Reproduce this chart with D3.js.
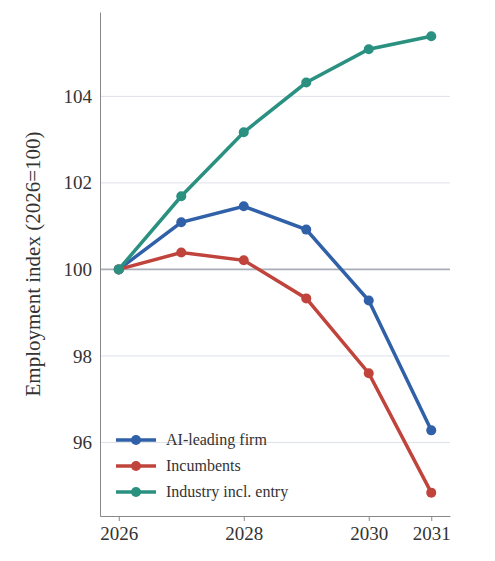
<!DOCTYPE html><html><head><meta charset="utf-8">
<script src="https://cdn.jsdelivr.net/npm/d3@7"></script>
<style>body{margin:0;background:#fff}svg{font-family:"Liberation Serif","Times New Roman",serif}</style></head><body>
<svg id="c" width="495" height="561"></svg>
<script>
const years=[2026,2027,2028,2029,2030,2031];
const xTicks=[2026,2028,2030,2031];
const yTicks=[96,98,100,102,104];
const aiLeading=[100,101.09,101.46,100.92,99.28,96.28];
const incumbents=[100,100.39,100.21,99.33,97.6,94.84];
const industry=[100,101.69,103.17,104.32,105.09,105.39];
const names=["AI-leading firm","Incumbents","Industry incl. entry"];
const colors=["#3060a8","#c0443c","#2a9080"];
const series=[aiLeading,incumbents,industry];
const svg=d3.select("#c");
const L=100,R=450,T=12,B=516;
const x=d3.scaleLinear().domain([2025.7,2031.3]).range([L,R]);
const y=d3.scaleLinear().domain([94.3,105.95]).range([B,T]);
svg.append("g").selectAll("line").data(yTicks).join("line").attr("x1",L).attr("x2",R)
 .attr("y1",d=>y(d)).attr("y2",d=>y(d)).attr("stroke",d=>d===100?"#a8adb8":"#dde1e8").attr("stroke-width",d=>d===100?1.6:1);
const ya=svg.append("g").attr("transform",`translate(${L},0)`).call(d3.axisLeft(y).tickValues(yTicks).tickSize(0).tickPadding(8));
const xa=svg.append("g").attr("transform",`translate(0,${B})`).call(d3.axisBottom(x).tickValues(xTicks).tickFormat(d3.format("d")).tickSize(5).tickPadding(6).tickSizeOuter(0));
[ya,xa].forEach(a=>{a.selectAll("text").attr("font-size",19).attr("fill","#333").attr("font-family","Liberation Serif");a.select(".domain").attr("stroke","#888");a.selectAll(".tick line").attr("stroke","#888");});
svg.append("text").attr("transform",`translate(40,${(T+B)/2}) rotate(-90)`).attr("text-anchor","middle")
 .attr("font-size",21).attr("fill","#333").text("Employment index (2026=100)");
const line=d3.line().x((d,i)=>x(years[i])).y(d=>y(d));
series.forEach((s,k)=>{
 svg.append("path").datum(s).attr("d",line).attr("fill","none").attr("stroke",colors[k]).attr("stroke-width",3.5);
 svg.append("g").selectAll("circle").data(s).join("circle").attr("cx",(d,i)=>x(years[i])).attr("cy",d=>y(d)).attr("r",5).attr("fill",colors[k]);
});
const lg=svg.append("g");
names.forEach((n,k)=>{
 const yy=440+k*26;
 lg.append("line").attr("x1",116).attr("x2",156).attr("y1",yy).attr("y2",yy).attr("stroke",colors[k]).attr("stroke-width",3.5);
 lg.append("circle").attr("cx",136).attr("cy",yy).attr("r",5).attr("fill",colors[k]);
 lg.append("text").attr("x",166).attr("y",yy+5).attr("font-size",16).attr("fill","#333").text(n);
});
</script></body></html>
